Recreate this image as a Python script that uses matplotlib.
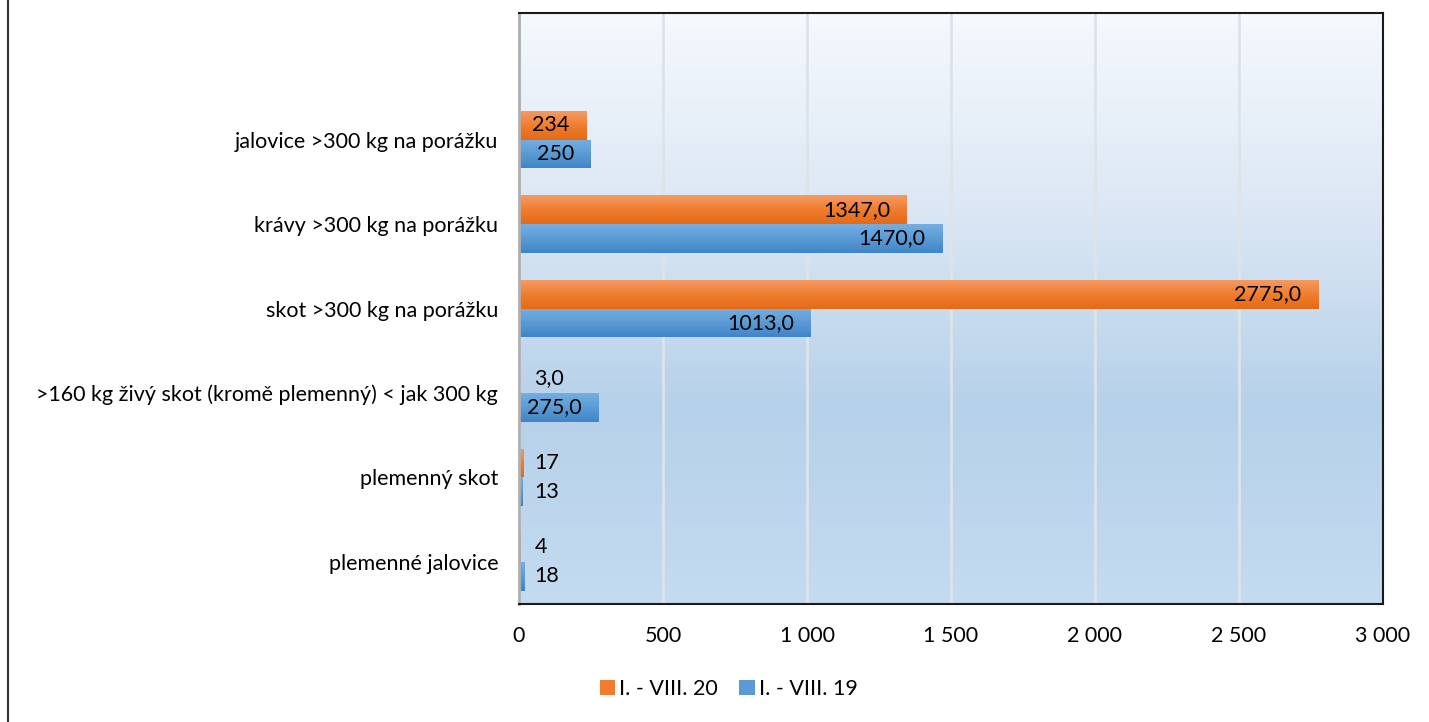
import numpy as np
import matplotlib
matplotlib.use('Agg')
import matplotlib.pyplot as plt
from matplotlib.colors import LinearSegmentedColormap
from matplotlib.patches import Patch

plt.rcParams['font.family'] = ['Lato', 'DejaVu Sans']

# data (bottom to top, empty slot at the top)
kategorie = ['plemenné jalovice', 'plemenný skot',
             '>160 kg živý skot (kromě plemenný) < jak 300 kg',
             'skot >300 kg na porážku', 'krávy >300 kg na porážku',
             'jalovice >300 kg na porážku', '']
hodnoty20 = [4, 17, 3.0, 2775.0, 1347.0, 234, None]
hodnoty19 = [18, 13, 275.0, 1013.0, 1470.0, 250, None]
popisky20 = ['4', '17', '3,0', '2775,0', '1347,0', '234', '']
popisky19 = ['18', '13', '275,0', '1013,0', '1470,0', '250', '']
nazev20 = 'I. - VIII. 20'
nazev19 = 'I. - VIII. 19'
xticks = [0, 500, 1000, 1500, 2000, 2500, 3000]
xticklabels = ['0', '500', '1 000', '1 500', '2 000', '2 500', '3 000']

FS = 15.5

fig = plt.figure(figsize=(14.29, 7.22), dpi=100)
ax = fig.add_axes([0.3632, 0.1634, 0.6046, 0.8186])

# gradient pozadi
bg = LinearSegmentedColormap.from_list('bg', ['#f6f9fd', '#dbe7f4', '#b6d1ea', '#c4dbf0'])
ax.imshow(np.linspace(0, 1, 256).reshape(-1, 1), cmap=bg, aspect='auto',
          extent=[0, 3000, -0.5, 6.5], origin='upper', zorder=0)

ax.set_axisbelow(True)
ax.grid(axis='x', color='#dde3ea', linewidth=2)

y = np.arange(len(kategorie))
h = 0.34
cm20 = LinearSegmentedColormap.from_list('o', ['#f59a63', '#f07d2e', '#e46a17'])
cm19 = LinearSegmentedColormap.from_list('b', ['#74aee2', '#5b9bd5', '#3f85c8'])
grad = np.linspace(0, 1, 64).reshape(-1, 1)

def kresli(vals, offs, cmap, popisky):
    for yi, v, lab in zip(y, vals, popisky):
        if v is None:
            continue
        b = ax.barh(yi + offs, v, height=h, color=cmap(0.5), zorder=2)[0]
        im = ax.imshow(grad, cmap=cmap, aspect='auto', origin='upper', zorder=2.1,
                       extent=[0, max(v, 1), yi + offs - h / 2, yi + offs + h / 2])
        im.set_clip_path(b)
        if v > 200:
            ax.annotate(lab, (v, yi + offs), xytext=(-12, 0), textcoords='offset points',
                        ha='right', va='center', fontsize=FS, zorder=3)
        else:
            ax.annotate(lab, (0, yi + offs), xytext=(11, 0), textcoords='offset points',
                        ha='left', va='center', fontsize=FS, zorder=3)

kresli(hodnoty20, h / 2, cm20, popisky20)
kresli(hodnoty19, -h / 2, cm19, popisky19)
ax.set_xlim(0, 3000)
ax.set_ylim(-0.5, 6.5)

ax.set_yticks(y)
ax.set_yticklabels(kategorie, fontsize=FS)
ax.set_xticks(xticks)
ax.set_xticklabels(xticklabels, fontsize=FS)
ax.tick_params(length=0, axis='y', pad=15)
ax.tick_params(length=0, axis='x', pad=16)

for s in ['top', 'right', 'bottom']:
    ax.spines[s].set_color('#1a1a1a')
    ax.spines[s].set_linewidth(1.5)
ax.spines['left'].set_color('#b0b0b0')
ax.spines['left'].set_linewidth(2)

# ramecek grafu vlevo
fig.add_artist(plt.Line2D([0.0056, 0.0056], [0, 1], color='#333333', linewidth=1.5,
                          transform=fig.transFigure))

handles = [Patch(facecolor='#f07d2e'), Patch(facecolor='#5b9bd5')]
fig.legend(handles, [nazev20, nazev19], loc='center', bbox_to_anchor=(0.51, 0.0457),
           ncol=2, frameon=False, fontsize=FS, handlelength=0.7, handleheight=0.7,
           handletextpad=0.2, columnspacing=1.0)

fig.savefig('out.png', dpi=100)
